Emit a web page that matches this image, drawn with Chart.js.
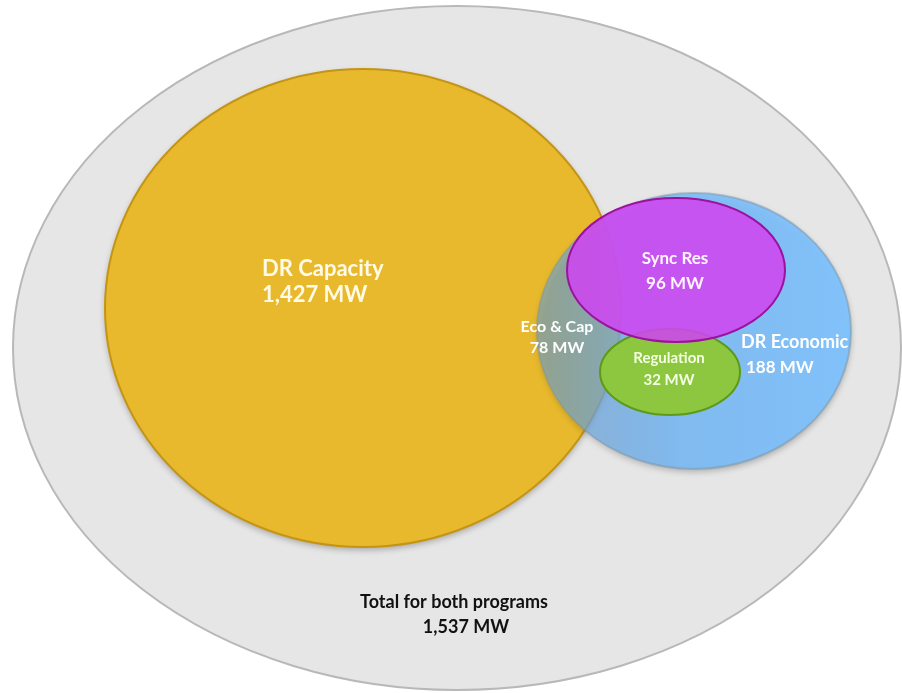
<!DOCTYPE html>
<html>
<head>
<meta charset="utf-8">
<script src="https://cdn.jsdelivr.net/npm/chart.js@4.4.0/dist/chart.umd.min.js"></script>
<style>
body { margin: 0; background: #fff; }
#wrap { width: 902px; height: 693px; }
</style>
</head>
<body>
<div id="wrap"><canvas id="venn" width="902" height="693"></canvas></div>
<script>
// program groups and their size in MW
const groups = ['Total for both programs', 'DR Capacity', 'DR Economic', 'Regulation', 'Sync Res'];
const megawatts = [1537, 1427, 188, 32, 96];
const overlapName = 'Eco & Cap';
const overlapMW = 78;

// ellipse layout, in the units of the hidden x/y scales (0..902, 0..693)
const shapes = [
    { cx: 457, cy: 348, rx: 444, ry: 342, fill: '#e6e6e6', border: '#b8b8b8', shadow: false },
    { cx: 363, cy: 308, rx: 258, ry: 239, fill: '#e8b92c', border: '#c49414', shadow: true },
    { cx: 694, cy: 331, rx: 157, ry: 138, fill: 'blue-gradient', border: 'rgba(120,150,170,0.5)', shadow: true },
    { cx: 670, cy: 372, rx: 70, ry: 43, fill: '#8dc63f', border: '#5c9a18', shadow: false },
    { cx: 676, cy: 270, rx: 109, ry: 72, fill: 'rgba(206,70,240,0.88)', border: '#9c129e', shadow: false }
];

// label layout: where each group's text goes
const labelPos = [
    { x: 454, y: 608, x2: 466, y2: 633, align: 'center', size: 18, size2: 18, color: '#111' },
    { x: 262, y: 276, x2: 262, y2: 302, align: 'left', size: 22, size2: 22, color: '#fffbe8' },
    { x: 741, y: 348, x2: 746, y2: 373, align: 'left', size: 18, size2: 17, color: '#ffffff' },
    { x: 669, y: 363, x2: 669, y2: 385, align: 'center', size: 15, size2: 15, color: '#f4ffe4' },
    { x: 675, y: 264, x2: 675, y2: 289, align: 'center', size: 17, size2: 17, color: '#fff4ff' }
];
const overlapPos = { x: 557, y: 332, x2: 557, y2: 353, size: 16, size2: 16 };

function mw(v) {
    return v.toLocaleString('en-US') + ' MW';
}

// draws each dataset point as an ellipse, sized through the scales
const ellipsePlugin = {
    id: 'ellipses',
    beforeDatasetsDraw(chart) {
        const ctx = chart.ctx;
        const xs = chart.scales.x, ys = chart.scales.y;
        shapes.forEach((s, i) => {
            const pt = chart.getDatasetMeta(i).data[0];
            const px = pt.x, py = pt.y;
            const rx = Math.abs(xs.getPixelForValue(s.cx + s.rx) - px);
            const ry = Math.abs(ys.getPixelForValue(s.cy + s.ry) - py);
            ctx.save();
            ctx.beginPath();
            ctx.ellipse(px, py, rx, ry, 0, 0, Math.PI * 2);
            if (s.fill === 'blue-gradient') {
                const g = ctx.createLinearGradient(px - rx, 0, px + rx, 0);
                g.addColorStop(0, 'rgba(105,165,225,0.55)');
                g.addColorStop(0.45, 'rgba(120,188,250,0.85)');
                g.addColorStop(1, 'rgba(128,194,252,0.97)');
                ctx.fillStyle = g;
            } else {
                ctx.fillStyle = s.fill;
            }
            if (s.shadow) {
                ctx.shadowColor = 'rgba(0,0,0,0.28)';
                ctx.shadowBlur = 6;
                ctx.shadowOffsetY = 3;
            }
            ctx.fill();
            ctx.shadowColor = 'transparent';
            ctx.lineWidth = 2;
            ctx.strokeStyle = s.border;
            ctx.stroke();
            ctx.restore();
        });
    },
    afterDatasetsDraw(chart) {
        const ctx = chart.ctx;
        const xs = chart.scales.x, ys = chart.scales.y;
        ctx.save();
        ctx.textBaseline = 'alphabetic';
        function put(text, x, y, size, align, color) {
            ctx.font = 'bold ' + size + 'px Lato, "Open Sans", sans-serif';
            ctx.textAlign = align;
            ctx.fillStyle = color;
            ctx.fillText(text, xs.getPixelForValue(x), ys.getPixelForValue(y));
        }
        groups.forEach((name, i) => {
            const p = labelPos[i];
            put(name, p.x, p.y, p.size, p.align, p.color);
            put(mw(megawatts[i]), p.x2, p.y2, p.size2, p.align, p.color);
        });
        put(overlapName, overlapPos.x, overlapPos.y, overlapPos.size, 'center', '#ffffff');
        put(mw(overlapMW), overlapPos.x2, overlapPos.y2, overlapPos.size2, 'center', '#ffffff');
        ctx.restore();
    }
};

new Chart(document.getElementById('venn'), {
    type: 'scatter',
    data: {
        datasets: shapes.map((s, i) => ({
            label: groups[i],
            data: [{ x: s.cx, y: s.cy }],
            pointRadius: 0,
            pointHoverRadius: 0
        }))
    },
    options: {
        responsive: false,
        animation: false,
        layout: { padding: 0 },
        plugins: {
            legend: { display: false },
            tooltip: { enabled: false }
        },
        scales: {
            x: { type: 'linear', min: 0, max: 902, display: false },
            y: { type: 'linear', min: 0, max: 693, reverse: true, display: false }
        }
    },
    plugins: [ellipsePlugin]
});
</script>
</body>
</html>
